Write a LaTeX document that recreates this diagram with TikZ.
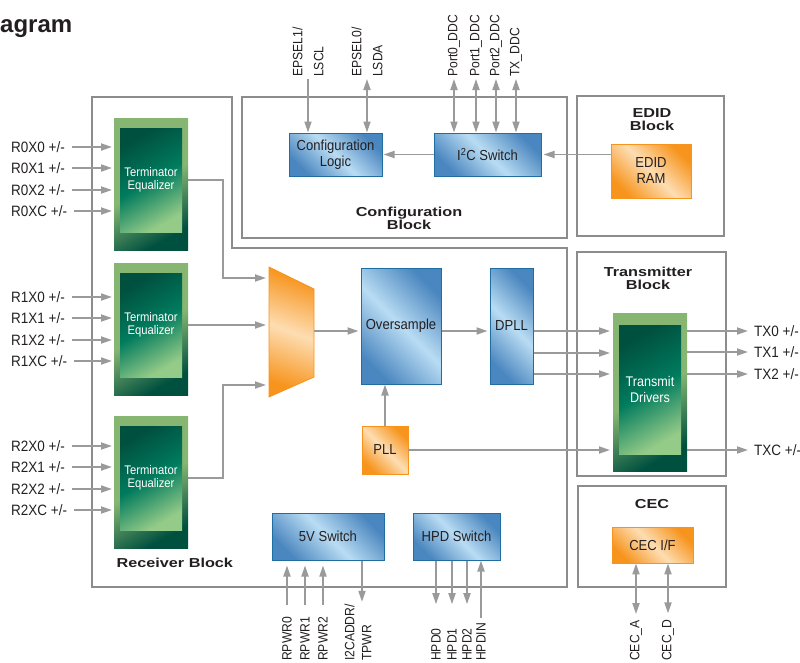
\documentclass[tikz,border=0pt]{standalone}
\usepackage{fontspec}
\setmainfont{Liberation Sans}[FakeStretch=0.9]
\newfontfamily\blockfont{Liberation Sans}[FakeStretch=1.25]
\newfontfamily\headfont{Liberation Sans}
\usetikzlibrary{arrows.meta,backgrounds}

\definecolor{linegray}{HTML}{9A9A9A}
\definecolor{framegray}{HTML}{8C8C8C}
\definecolor{ink}{HTML}{231F20}
\definecolor{blueedge}{HTML}{1F6EA3}
\definecolor{bluedark}{HTML}{4A86BF}
\definecolor{bluelight}{HTML}{B9DCF3}
\definecolor{orangedark}{HTML}{F7941D}
\definecolor{orangelight}{HTML}{FDDDB2}
\definecolor{greenlight}{HTML}{87B672}
\definecolor{greendark}{HTML}{00503F}
\definecolor{greenmid}{HTML}{007B5D}
\definecolor{greenpale}{HTML}{95CB88}

\begin{document}
\begin{tikzpicture}[x=1pt,y=-1pt,
  box/.style={draw=blueedge, line width=1pt, top color=bluedark, bottom color=bluedark, middle color=bluelight, shading angle=-45, text=ink, font=\fontsize{14.5}{16}\selectfont, align=center, inner sep=0pt},
  orangebox/.style={draw=orangedark, line width=0.8pt, top color=orangedark, bottom color=orangedark, middle color=orangelight, shading angle=-45, text=ink, font=\fontsize{14.5}{16}\selectfont, align=center, inner sep=0pt},
  eqbox/.style={minimum width=62pt, minimum height=104pt, outer xsep=6pt, outer ysep=0pt, top color=greendark, bottom color=greenpale, middle color=greenmid, shading angle=30, text=white, font=\fontsize{12.5}{13.5}\selectfont, align=center, inner sep=0pt},
  eqframe/.style={top color=greenlight, bottom color=greendark, middle color=greenlight, shading angle=30},
  frame/.style={draw=framegray, line width=1.3pt},
  title/.style={font=\blockfont\bfseries\fontsize{13}{13}\selectfont, text=ink, align=center},
  lbl/.style={font=\fontsize{15}{17}\selectfont, text=ink, inner sep=2pt},
  vlbl/.style={rotate=90, font=\fontsize{13.5}{21}\selectfont, text=ink, inner sep=2pt, align=left},
  pin/.style={draw=linegray, line width=1.8pt, -{Triangle[length=11pt,width=7pt]}},
  dpin/.style={pin, {Triangle[length=11pt,width=7pt]}-{Triangle[length=11pt,width=7pt]}}]
  \useasboundingbox (0,0) rectangle (800,662);

  \node[font=\headfont\bfseries\fontsize{24}{24}\selectfont, text=ink, anchor=base west, inner sep=0pt] (head) at (0,32) {agram};

  \draw[frame] (92,97) -- (232,97) -- (232,248) -- (567,248) -- (567,587) -- (92,587) -- cycle;
  \draw[frame] (242,97) rectangle (567,238);
  \draw[frame] (577,96) rectangle (724,236);
  \draw[frame] (577,252) rectangle (726,476);
  \draw[frame] (578,486) rectangle (726,587);

  \node[title] (cfgttl) at (409,218) {Configuration\\Block};
  \node[title] (edidttl) at (652,120) {EDID\\Block};
  \node[title] (txttl) at (648,278) {Transmitter\\Block};
  \node[title] (cecttl) at (652,504) {CEC};
  \node[title, anchor=west] (rxttl) at (113,563) {Receiver Block};

  \node[box, minimum width=93pt, minimum height=43pt] (cfg) at (335.5,154.5) {Configuration\\Logic};
  \node[box, minimum width=107pt, minimum height=43pt] (i2c) at (487.5,154.5) {I\textsuperscript{2}C Switch};
  \node[orangebox, minimum width=80pt, minimum height=54pt] (edid) at (651,171) {EDID\\RAM};
  \node[box, minimum width=80pt, minimum height=116pt] (os) at (401,326) {Oversample};
  \node[box, minimum width=43pt, minimum height=116pt] (dpll) at (511.5,326) {DPLL};
  \node[orangebox, minimum width=46pt, minimum height=48pt] (pll) at (385,450) {PLL};
  \node[box, minimum width=112pt, minimum height=47pt] (sw5v) at (328,536.5) {5V Switch};
  \node[box, minimum width=87pt, minimum height=47pt] (hpd) at (456.5,536.5) {HPD Switch};
  \node[orangebox, minimum width=81pt, minimum height=36pt] (cecif) at (652.5,545) {CEC I/F};

  \node[eqbox] (te0) at (151,180) {Terminator\\Equalizer};
  \node[eqbox] (te1) at (151,325) {Terminator\\Equalizer};
  \node[eqbox] (te2) at (151,478) {Terminator\\Equalizer};
  \node[eqbox, minimum height=129pt, font=\fontsize{14}{15.5}\selectfont] (drv) at (650,389.5) {Transmit\\Drivers};
  \begin{scope}[on background layer]
    \shade[eqframe] ([yshift=10pt]te0.north west) rectangle ([yshift=-18pt]te0.south east);
    \shade[eqframe] ([yshift=10pt]te1.north west) rectangle ([yshift=-18pt]te1.south east);
    \shade[eqframe] ([yshift=10pt]te2.north west) rectangle ([yshift=-18pt]te2.south east);
    \shade[eqframe] ([yshift=12pt]drv.north west) rectangle ([yshift=-17pt]drv.south east);
  \end{scope}

  \path[draw=orangedark, line width=0.8pt, top color=orangedark, bottom color=orangedark, middle color=orangelight, shading angle=-20] (269,267) -- (314,289) -- (314,377) -- (269,397) -- cycle;
  \coordinate (mux0) at (269,278);
  \coordinate (mux2) at (269,385);
  \coordinate (muxout) at (314,331);

  \node[lbl, anchor=west] (r0x0) at (9,147) {R0X0 +/-};
  \node[lbl, anchor=west] (r0x1) at (9,168) {R0X1 +/-};
  \node[lbl, anchor=west] (r0x2) at (9,190) {R0X2 +/-};
  \node[lbl, anchor=west] (r0xc) at (9,211) {R0XC +/-};
  \node[lbl, anchor=west] (r1x0) at (9,297) {R1X0 +/-};
  \node[lbl, anchor=west] (r1x1) at (9,318) {R1X1 +/-};
  \node[lbl, anchor=west] (r1x2) at (9,340) {R1X2 +/-};
  \node[lbl, anchor=west] (r1xc) at (9,361) {R1XC +/-};
  \node[lbl, anchor=west] (r2x0) at (9,446) {R2X0 +/-};
  \node[lbl, anchor=west] (r2x1) at (9,467) {R2X1 +/-};
  \node[lbl, anchor=west] (r2x2) at (9,489) {R2X2 +/-};
  \node[lbl, anchor=west] (r2xc) at (9,510) {R2XC +/-};
  \draw[pin, shorten <=5pt, shorten >=2pt] (r0x0.east) -- (r0x0 -| te0.west);
  \draw[pin, shorten <=5pt, shorten >=2pt] (r0x1.east) -- (r0x1 -| te0.west);
  \draw[pin, shorten <=5pt, shorten >=2pt] (r0x2.east) -- (r0x2 -| te0.west);
  \draw[pin, shorten <=5pt, shorten >=2pt] (r0xc.east) -- (r0xc -| te0.west);
  \draw[pin, shorten <=5pt, shorten >=2pt] (r1x0.east) -- (r1x0 -| te1.west);
  \draw[pin, shorten <=5pt, shorten >=2pt] (r1x1.east) -- (r1x1 -| te1.west);
  \draw[pin, shorten <=5pt, shorten >=2pt] (r1x2.east) -- (r1x2 -| te1.west);
  \draw[pin, shorten <=5pt, shorten >=2pt] (r1xc.east) -- (r1xc -| te1.west);
  \draw[pin, shorten <=5pt, shorten >=2pt] (r2x0.east) -- (r2x0 -| te2.west);
  \draw[pin, shorten <=5pt, shorten >=2pt] (r2x1.east) -- (r2x1 -| te2.west);
  \draw[pin, shorten <=5pt, shorten >=2pt] (r2x2.east) -- (r2x2 -| te2.west);
  \draw[pin, shorten <=5pt, shorten >=2pt] (r2xc.east) -- (r2xc -| te2.west);

  \draw[pin, shorten >=3pt] (te0.east) -| ([xshift=-46pt]mux0) -- (mux0);
  \draw[pin, shorten >=3pt] (te1.east) -- (te1.east -| mux0);
  \draw[pin, shorten >=3pt] (te2.east) -| ([xshift=-46pt]mux2) -- (mux2);
  \draw[pin, shorten >=2pt] (muxout) -- (muxout -| os.west);
  \coordinate (osout) at ([yshift=-5pt]os.east);
  \draw[pin, shorten >=2pt] (osout) -- (osout -| dpll.west);
  \coordinate (dp0) at ([yshift=-5pt]dpll.east);
  \coordinate (dp1) at ([yshift=-27pt]dpll.east);
  \coordinate (dp2) at ([yshift=-48pt]dpll.east);
  \draw[pin, shorten >=3pt] (dp0) -- (dp0 -| drv.west);
  \draw[pin, shorten >=3pt] (dp1) -- (dp1 -| drv.west);
  \draw[pin, shorten >=3pt] (dp2) -- (dp2 -| drv.west);
  \draw[pin, shorten >=3pt] (pll.east) -- (pll.east -| drv.west);
  \draw[pin] (pll.north) -- (pll.north |- os.south);
  \draw[pin, shorten >=1pt] (i2c.west) -- (cfg.east);
  \draw[pin, shorten >=2pt] (edid.west |- i2c.east) -- (i2c.east);

  \node[lbl, anchor=west] (tx0) at (752,331) {TX0 +/-};
  \node[lbl, anchor=west] (tx1) at (752,352) {TX1 +/-};
  \node[lbl, anchor=west] (tx2) at (752,374) {TX2 +/-};
  \node[lbl, anchor=west] (txc) at (752,450) {TXC +/-};
  \draw[pin, shorten >=4pt] (tx0 -| drv.east) -- (tx0.west);
  \draw[pin, shorten >=4pt] (tx1 -| drv.east) -- (tx1.west);
  \draw[pin, shorten >=4pt] (tx2 -| drv.east) -- (tx2.west);
  \draw[pin, shorten >=4pt] (txc -| drv.east) -- (txc.west);

  \node[vlbl, anchor=west] (lscl) at (308,79) {EPSEL1/\\LSCL};
  \node[vlbl, anchor=west] (lsda) at (367,79) {EPSEL0/\\LSDA};
  \node[vlbl, anchor=west] (ddc0) at (454,79) {Port0\_DDC};
  \node[vlbl, anchor=west] (ddc1) at (476,79) {Port1\_DDC};
  \node[vlbl, anchor=west] (ddc2) at (496,79) {Port2\_DDC};
  \node[vlbl, anchor=west] (txddc) at (516,79) {TX\_DDC};
  \draw[pin] (lscl.west) -- (lscl.west |- cfg.north);
  \draw[dpin] (lsda.west) -- (lsda.west |- cfg.north);
  \draw[dpin] (ddc0.west) -- (ddc0.west |- i2c.north);
  \draw[dpin] (ddc1.west) -- (ddc1.west |- i2c.north);
  \draw[dpin] (ddc2.west) -- (ddc2.west |- i2c.north);
  \draw[dpin] (txddc.west) -- (txddc.west |- i2c.north);

  \node[vlbl, anchor=west] (rpwr0) at (287,663) {RPWR0};
  \node[vlbl, anchor=west] (rpwr1) at (305,663) {RPWR1};
  \node[vlbl, anchor=west] (rpwr2) at (323,663) {RPWR2};
  \node[vlbl, anchor=west, font=\fontsize{13.5}{17}\selectfont] (tpwr) at (358,663) {I2CADDR/\\TPWR};
  \node[vlbl, anchor=west] (hpd0) at (436,663) {HPD0};
  \node[vlbl, anchor=west] (hpd1) at (452,663) {HPD1};
  \node[vlbl, anchor=west] (hpd2) at (467,663) {HPD2};
  \node[vlbl, anchor=west] (hpdin) at (481,663) {HPDIN};
  \node[vlbl, anchor=west] (ceca) at (636,663) {CEC\_A};
  \node[vlbl, anchor=west] (cecd) at (668,663) {CEC\_D};
  \coordinate (tpwrtop) at ([xshift=4pt]tpwr.east);
  \draw[pin, shorten >=5pt] ([yshift=10pt]rpwr0.east) -- (rpwr0.east |- sw5v.south);
  \draw[pin, shorten >=5pt] ([yshift=10pt]rpwr1.east) -- (rpwr1.east |- sw5v.south);
  \draw[pin, shorten >=5pt] ([yshift=10pt]rpwr2.east) -- (rpwr2.east |- sw5v.south);
  \draw[pin] (tpwrtop |- sw5v.south) -- (tpwrtop);
  \draw[pin] (hpd0.east |- hpd.south) -- ([yshift=22pt]hpd0.east);
  \draw[pin] (hpd1.east |- hpd.south) -- ([yshift=22pt]hpd1.east);
  \draw[pin] (hpd2.east |- hpd.south) -- ([yshift=22pt]hpd2.east);
  \draw[pin] ([yshift=3pt]hpdin.east) -- (hpdin.east |- hpd.south);
  \draw[dpin] (cecif.south -| ceca.east) -- ([yshift=4pt]ceca.east);
  \draw[dpin] (cecif.south -| cecd.east) -- ([yshift=4pt]cecd.east);
\end{tikzpicture}
\end{document}
